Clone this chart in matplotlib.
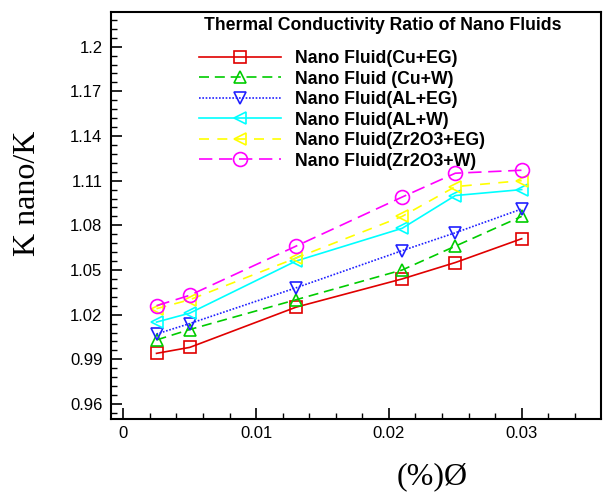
import matplotlib
matplotlib.use("Agg")
import matplotlib.pyplot as plt
from matplotlib.ticker import FixedLocator, MultipleLocator

# ---- data ----
phi = [0.0025, 0.005, 0.013, 0.021, 0.025, 0.030]
cu_eg = [0.994, 0.998, 1.025, 1.044, 1.055, 1.071]
cu_w = [1.003, 1.010, 1.030, 1.050, 1.066, 1.086]
al_eg = [1.007, 1.014, 1.038, 1.063, 1.075, 1.091]
al_w = [1.015, 1.021, 1.056, 1.078, 1.100, 1.104]
zr_eg = [1.024, 1.030, 1.058, 1.086, 1.106, 1.110]
zr_w = [1.026, 1.033, 1.066, 1.099, 1.115, 1.117]
labels = ["Nano Fluid(Cu+EG)", "Nano Fluid (Cu+W)", "Nano Fluid(AL+EG)",
          "Nano Fluid(AL+W)", "Nano Fluid(Zr2O3+EG)", "Nano Fluid(Zr2O3+W)"]
xtick_vals = [0, 0.01, 0.02, 0.03]
xtick_labels = ["0", "0.01", "0.02", "0.03"]
ytick_vals = [0.96, 0.99, 1.02, 1.05, 1.08, 1.11, 1.14, 1.17, 1.2]
ytick_labels = ["0.96", "0.99", "1.02", "1.05", "1.08", "1.11", "1.14", "1.17", "1.2"]
title = "Thermal Conductivity Ratio of Nano Fluids"

plt.rcParams['font.family'] = ['Liberation Sans', 'DejaVu Sans']

fig = plt.figure(figsize=(6.03, 4.93), dpi=100)
ax = fig.add_axes([0.1836, 0.1507, 0.8126, 0.8256])

styles = [
    dict(color="#e00000", ls="-", marker="s", ms=8),
    dict(color="#00cc00", ls=(0, (6, 3.5)), marker="^", ms=9),
    dict(color="#2020ff", ls=(0, (1, 1)), marker="v", ms=9),
    dict(color="#00ffff", ls="-", marker="<", ms=9),
    dict(color="#ffff00", ls=(0, (6, 5)), marker="<", ms=9),
    dict(color="#ff00ff", ls=(0, (8, 4)), marker="o", ms=10),
]
series = [cu_eg, cu_w, al_eg, al_w, zr_eg, zr_w]
for ys, lab, st in zip(series, labels, styles):
    ax.plot(phi, ys, color=st["color"], linestyle=st["ls"], lw=1.2,
            marker=st["marker"], ms=st["ms"], mfc="none", mec=st["color"],
            mew=1.2, label=lab)

ax.set_xlim(-0.00095, 0.03595)
ax.set_ylim(0.9501, 1.2235)
ax.xaxis.set_major_locator(FixedLocator(xtick_vals))
ax.set_xticklabels(xtick_labels)
ax.xaxis.set_minor_locator(MultipleLocator(0.002))
ax.yaxis.set_major_locator(FixedLocator(ytick_vals))
ax.set_yticklabels(ytick_labels)
ax.yaxis.set_minor_locator(MultipleLocator(0.006))

ax.tick_params(which="both", direction="in", top=False, right=False,
               labelsize=12, width=1.2)
ax.tick_params(which="major", length=8)
ax.tick_params(axis="y", which="major", pad=6)
ax.tick_params(axis="x", which="major", pad=5)
ax.tick_params(which="minor", length=4, width=1.0)
for sp in ax.spines.values():
    sp.set_linewidth(1.5)

fig.text(28 / 603, 1 - 193 / 493, "K nano/K", rotation=90, ha="center",
         va="center", fontsize=23, family="Liberation Serif")
fig.text(432 / 603, 1 - 477 / 493, "(%)Ø", ha="center", va="center",
         fontsize=23, family="Liberation Serif")

fig.text(383 / 603, 1 - 25.5 / 493, title, ha="center", va="center",
         fontsize=12.7, fontweight="bold")
leg = ax.legend(loc="upper left", bbox_to_anchor=(199 / 603, 1 - 50 / 493),
                bbox_transform=fig.transFigure, frameon=False, borderpad=0,
                borderaxespad=0, handlelength=4.66, handletextpad=0.8,
                labelspacing=0.2, prop=dict(size=12.7, weight="bold"))

fig.savefig("out.png", dpi=100)
